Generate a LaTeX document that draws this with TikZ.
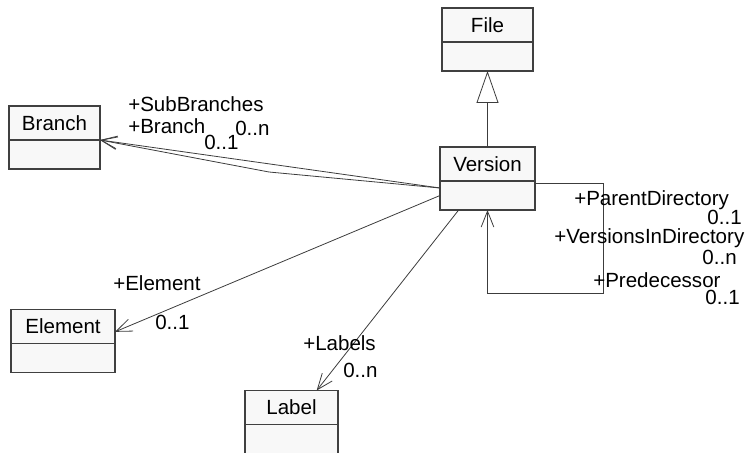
\documentclass[tikz,border=0pt]{standalone}
\usepackage{fontspec}
\setmainfont{Liberation Sans}
\usetikzlibrary{positioning,arrows.meta}

\definecolor{boxfill}{RGB}{248,248,248}
\definecolor{boxline}{RGB}{64,64,64}
\definecolor{wirecol}{RGB}{60,60,60}
\newcommand{\umlfont}{\fontsize{15.4}{18}\selectfont}

\tikzset{
  classhead/.style={draw=boxline, fill=boxfill, line width=0.8pt, minimum width=#1,
    minimum height=25.5pt, inner sep=0pt, outer sep=0pt, font=\umlfont},
  classbody/.style={draw=boxline, fill=boxfill, line width=0.8pt, minimum width=#1,
    minimum height=21.75pt, inner sep=0pt, outer sep=0pt},
  rolelabel/.style={inner sep=0pt, text height=11pt, text depth=0pt, font=\umlfont},
  assoc/.style={draw=wirecol, line width=0.6pt, -{Straight Barb[length=12pt,width=9.5pt,line width=0.6pt]}},
  gen/.style={draw=wirecol, line width=0.6pt, -{Triangle[open,length=24pt,width=16.5pt,fill=white,line width=0.6pt]}}
}

\begin{document}
\begin{tikzpicture}[x=0.75pt,y=0.75pt,yscale=-1]
\useasboundingbox (0,0) rectangle (746,453);
\clip (0,0) rectangle (746,453);

%Class Boxes
\node[classhead=68.25pt] (file) at (487.5,25) {File};
\node[classbody=68.25pt, below=0pt of file] (file-b) {};
\node[classhead=71.25pt] (version) at (487.5,164) {Version};
\node[classbody=71.25pt, below=0pt of version] (version-b) {};
\node[classhead=68.25pt] (branch) at (54.5,123) {Branch};
\node[classbody=68.25pt, below=0pt of branch] (branch-b) {};
\node[classhead=78pt] (element) at (63,326.5) {Element};
\node[classbody=78pt, below=0pt of element] (element-b) {};
\node[classhead=69.75pt] (label) at (291.5,407.5) {Label};
\node[classbody=69.75pt, minimum height=26pt, below=0pt of label] (label-b) {};

\coordinate (bend) at (269,172);
\coordinate (loop) at (603,293);

%Straight Lines
\draw[gen] (version.north) -- (file-b.south);
\draw[assoc] ([yshift=5.25pt]version.south west) -- (branch.south east);
\draw[assoc] ([yshift=5.25pt]version.south west) -- (bend) -- (branch.south east);
\draw[assoc] (version-b.west) -- ([yshift=4pt]element.east);
\draw[assoc] ([xshift=14pt]version-b.south west) -- ([xshift=-16pt]label.north east);
\draw[assoc] ([yshift=2pt]version.south east) -| (loop) -| (version-b.south);

% Text Node
\node[rolelabel, anchor=west] (subbranches) at (128,104) {+SubBranches};
% Text Node
\node[rolelabel, anchor=west] (branchrole) at (128,126) {+Branch};
% Text Node
\node[rolelabel, anchor=west] (branchmult) at (204,142) {0..1};
% Text Node
\node[rolelabel, anchor=west] (submult) at (235,128) {0..n};
% Text Node
\node[rolelabel, anchor=west] (elementrole) at (113,283) {+Element};
% Text Node
\node[rolelabel, anchor=west] (elementmult) at (155,322) {0..1};
% Text Node
\node[rolelabel, anchor=west] (labelsrole) at (303,343) {+Labels};
% Text Node
\node[rolelabel, anchor=west] (labelsmult) at (343,370) {0..n};
% Text Node
\node[rolelabel, anchor=west] (parentrole) at (574,198) {+ParentDirectory};
% Text Node
\node[rolelabel, anchor=east] (parentmult) at (742,217) {0..1};
% Text Node
\node[rolelabel, anchor=west] (indirrole) at (554,236) {+VersionsInDirectory};
% Text Node
\node[rolelabel, anchor=east] (indirmult) at (737,257) {0..n};
% Text Node
\node[rolelabel, anchor=west] (predrole) at (593,280) {+Predecessor};
% Text Node
\node[rolelabel, anchor=east] (predmult) at (740,297) {0..1};

\end{tikzpicture}
\end{document}
